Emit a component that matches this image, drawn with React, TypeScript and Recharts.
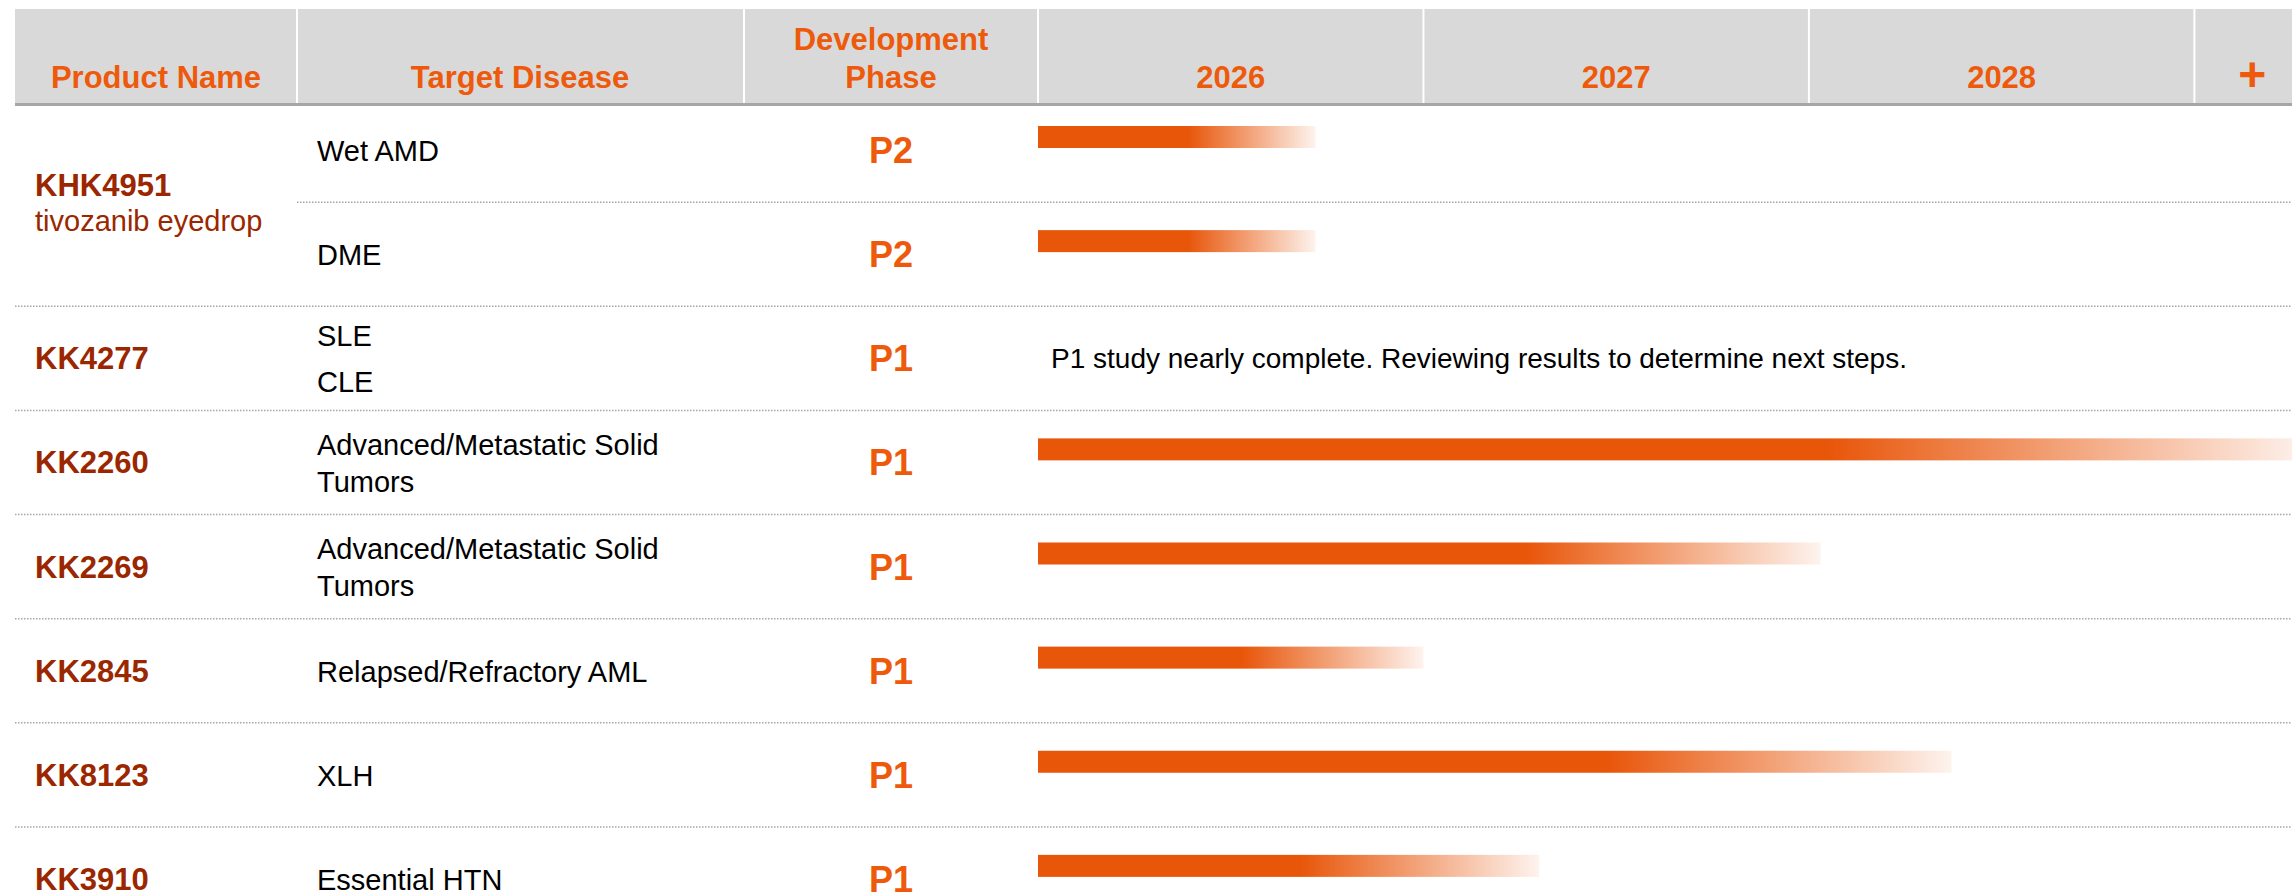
import React from 'react';
import { BarChart, Bar, XAxis, YAxis } from 'recharts';

// pipeline rows, top to bottom
const PRODUCTS = ['KHK4951', 'KHK4951', 'KK4277', 'KK2260', 'KK2269', 'KK2845', 'KK8123', 'KK3910'];
const SUBTITLES: Record<string, string> = { KHK4951: 'tivozanib eyedrop' };
const DISEASES = [
  ['Wet AMD'],
  ['DME'],
  ['SLE', 'CLE'],
  ['Advanced/Metastatic Solid Tumors'],
  ['Advanced/Metastatic Solid Tumors'],
  ['Relapsed/Refractory AML'],
  ['XLH'],
  ['Essential HTN'],
];
const PHASES = ['P2', 'P2', 'P1', 'P1', 'P1', 'P1', 'P1', 'P1'];
// timeline: where the solid part stops and where the fade ends (fractional years)
const SOLID_END = [2026.39, 2026.39, null, 2028.05, 2027.27, 2026.53, 2027.48, 2026.68];
const BAR_END = [2026.72, 2026.72, null, 2029.3, 2028.03, 2027.0, 2028.37, 2027.3];
const NOTES = [null, null, 'P1 study nearly complete. Reviewing results to determine next steps.', null, null, null, null, null];

const YEAR_DIVIDERS = [2026, 2027, 2028, 2029];
const YEAR_LABEL_TICKS = [2026.5, 2027.5, 2028.5, 2029.15];
const YEAR_LABELS = ['2026', '2027', '2028', '+'];

const rows = PRODUCTS.map((product, i) => ({
  key: `${product}-${i}`,
  product,
  diseases: DISEASES[i],
  phase: PHASES[i],
  solid: SOLID_END[i],
  end: BAR_END[i],
  note: NOTES[i],
}));

const W = 2292;
const H = 893;
const CW = 2310;
const CH = 931;
const PLOT_TOP = 98;
const PLOT_LEFT = 1038;
const BAND = (CH - PLOT_TOP) / rows.length;

const FONT = '"Liberation Sans", Arial, sans-serif';
const ORANGE = '#EE5A0C';
const BAR_ORANGE = '#E8560A';
const BRICK = '#9A2700';

const wrap = (text: string, max = 26) => {
  const out: string[] = [];
  let cur = '';
  text.split(' ').forEach((w) => {
    if (cur && (cur + ' ' + w).length > max) {
      out.push(cur);
      cur = w;
    } else {
      cur = cur ? cur + ' ' + w : w;
    }
  });
  if (cur) out.push(cur);
  return out;
};

const RowTick = (props: any) => {
  const { y, payload } = props;
  const i = rows.findIndex((r) => r.key === payload.value);
  if (i < 0) return null;
  const row = rows[i];
  const sameAsPrev = i > 0 && rows[i - 1].product === row.product;

  // disease lines: separate indications 46px apart, wrapped lines 37px apart
  const lines: { text: string; off: number }[] = [];
  let off = 0;
  row.diseases.forEach((d, k) => {
    if (k > 0) off += 46;
    wrap(d).forEach((t, j) => {
      if (j > 0) off += 37;
      lines.push({ text: t, off });
    });
  });
  const mid = off / 2;

  let product = null;
  if (!sameAsPrev) {
    let span = 1;
    while (rows[i + span] && rows[i + span].product === row.product) span++;
    const c = y + ((span - 1) * BAND) / 2;
    const sub = SUBTITLES[row.product];
    product = (
      <g fill={BRICK} fontFamily={FONT}>
        <text x={35} y={sub ? c - 6 : c + 11} fontSize={31} fontWeight="bold">
          {row.product}
        </text>
        {sub && (
          <text x={35} y={c + 29} fontSize={29}>
            {sub}
          </text>
        )}
      </g>
    );
  }

  return (
    <g>
      {i > 0 && (
        <line
          x1={sameAsPrev ? 297 : 15}
          x2={W}
          y1={y - BAND / 2}
          y2={y - BAND / 2}
          stroke="#A6A6A6"
          strokeWidth={1.5}
          strokeDasharray="1.5 1.5"
        />
      )}
      {product}
      {lines.map((l, k) => (
        <text key={k} x={317} y={y + 11 + l.off - mid} fontSize={29} fontFamily={FONT} fill="#000">
          {l.text}
        </text>
      ))}
      <text x={891} y={y + 13} textAnchor="middle" fontSize={36} fontWeight="bold" fontFamily={FONT} fill={ORANGE}>
        {row.phase}
      </text>
      {row.note && (
        <text x={1051} y={y + 10} fontSize={28} fontFamily={FONT} fill="#000">
          {row.note}
        </text>
      )}
    </g>
  );
};

const YearTick = (props: any) => {
  const { x, payload } = props;
  const v = payload.value;
  if (YEAR_DIVIDERS.includes(v)) {
    return <line x1={x} x2={x} y1={9} y2={103} stroke="#fff" strokeWidth={2} />;
  }
  const label = YEAR_LABELS[YEAR_LABEL_TICKS.indexOf(v)];
  const plus = label === '+';
  return (
    <text
      x={x}
      y={plus ? 91 : 88}
      textAnchor="middle"
      fontSize={plus ? 48 : 31}
      fontWeight="bold"
      fontFamily={FONT}
      fill={ORANGE}
    >
      {label}
    </text>
  );
};

const GradientBar = (props: any) => {
  const { x, y, width, height, payload, index } = props;
  if (payload.end == null || !(width > 0)) return null;
  const frac = (payload.solid - 2026) / (payload.end - 2026);
  const id = `fade-${index}`;
  return (
    <g>
      <defs>
        <linearGradient id={id} x1="0" y1="0" x2="1" y2="0">
          <stop offset={0} stopColor={BAR_ORANGE} stopOpacity={1} />
          <stop offset={frac} stopColor={BAR_ORANGE} stopOpacity={1} />
          <stop offset={1} stopColor={BAR_ORANGE} stopOpacity={0.07} />
        </linearGradient>
      </defs>
      <rect x={x} y={y - 13} width={width} height={height} fill={`url(#${id})`} />
    </g>
  );
};

export default function App() {
  return (
    <div style={{ position: 'absolute', left: 0, top: 0, width: W, height: H, overflow: 'hidden', background: '#fff' }}>
      {/* header band */}
      <svg width={W} height={H} style={{ position: 'absolute', left: 0, top: 0 }}>
        <rect x={15} y={9} width={W - 15} height={94} fill="#D9D9D9" />
        <rect x={15} y={103} width={W - 15} height={3} fill="#A6A6A6" />
        <line x1={297} x2={297} y1={9} y2={103} stroke="#fff" strokeWidth={2} />
        <line x1={744} x2={744} y1={9} y2={103} stroke="#fff" strokeWidth={2} />
        <g fontFamily={FONT} fontWeight="bold" fontSize={31} fill={ORANGE} textAnchor="middle">
          <text x={156} y={88}>Product Name</text>
          <text x={520} y={88}>Target Disease</text>
          <text x={891} y={50}>Development</text>
          <text x={891} y={88}>Phase</text>
        </g>
      </svg>
      <div style={{ position: 'absolute', left: 0, top: 0 }}>
        <BarChart
          width={CW}
          height={CH}
          data={rows}
          layout="vertical"
          margin={{ top: PLOT_TOP - 90, right: 0, bottom: 0, left: 0 }}
        >
          <XAxis
            type="number"
            orientation="top"
            domain={[2026, 2029.3]}
            allowDataOverflow
            ticks={[...YEAR_DIVIDERS, ...YEAR_LABEL_TICKS].sort((a, b) => a - b)}
            interval={0}
            axisLine={false}
            tickLine={false}
            height={90}
            tick={<YearTick />}
          />
          <YAxis
            type="category"
            dataKey="key"
            width={PLOT_LEFT}
            interval={0}
            axisLine={false}
            tickLine={false}
            tick={<RowTick />}
          />
          <Bar dataKey="end" barSize={22} isAnimationActive={false} shape={<GradientBar />} />
        </BarChart>
      </div>
    </div>
  );
}
